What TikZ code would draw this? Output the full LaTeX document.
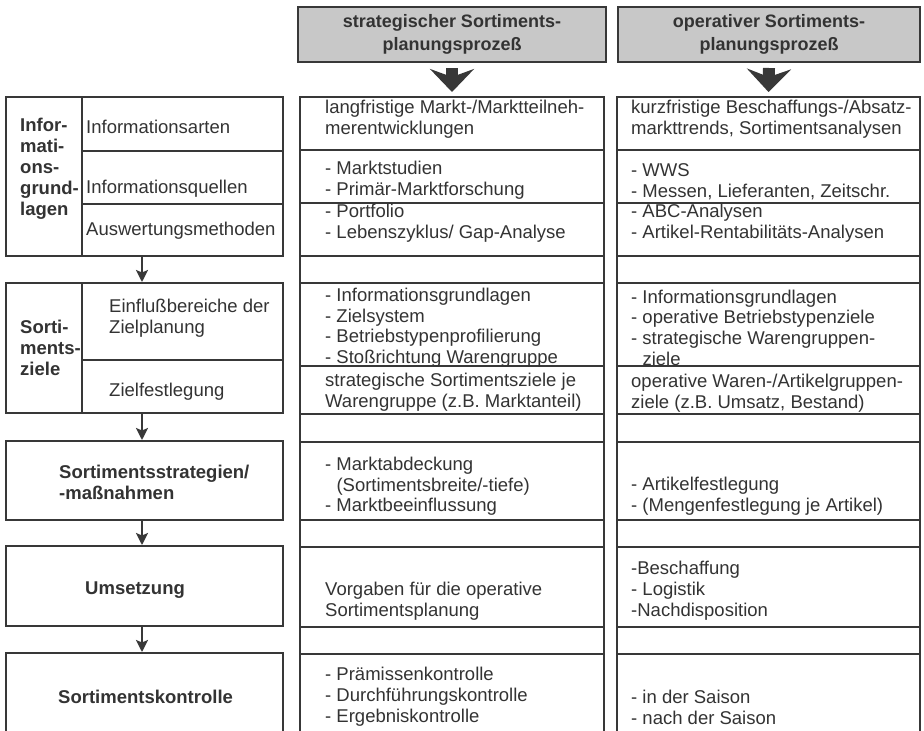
\documentclass[tikz,border=0pt]{standalone}
\usepackage{fontspec}
\setmainfont{Liberation Sans}
\usetikzlibrary{arrows.meta,fit,calc}
\definecolor{ln}{HTML}{383838}
\definecolor{tx}{HTML}{333333}
\definecolor{hdr}{HTML}{C8C8C8}
\begin{document}
\begin{tikzpicture}[x=1pt,y=-1pt,
  cellbox/.style={draw=ln, line width=2pt, inner sep=0pt},
  hdrbox/.style={draw=ln, line width=2pt, fill=hdr, inner sep=0pt},
  htxt/.style={inner sep=0pt, align=center, text=tx, font=\fontsize{18}{23}\selectfont\bfseries},
  txt/.style={anchor=west, inner sep=0pt, align=left, text=tx, font=\fontsize{18.5}{20.8}\selectfont},
  btxt/.style={txt, font=\fontsize{18.5}{21}\selectfont\bfseries},
  smallarrow/.style={draw=ln, line width=2.2pt, -{Stealth[length=12pt,width=12pt,inset=2.5pt]}},
  bigarrow/.style={draw=ln, line width=12pt, -{Stealth[length=23pt,width=44pt,inset=8pt]}}]
\useasboundingbox (0,0) rectangle (924,731);
\clip (0,0) rectangle (924,731);
\fill[white] (0,0) rectangle (924,731);

% headers
\node[hdrbox, fit={(298,7) (606,62)}] (h1) {};
\node[hdrbox, fit={(618,7) (920,62)}] (h2) {};
\node[htxt] (th1) at (h1.center) {strategischer Sortiments-\\planungsprozeß};
\node[htxt] (th2) at (h2.center) {operativer Sortiments-\\planungsprozeß};

% left column
\node[cellbox, fit={(6,97) (283,256)}] (IG) {};
\node[cellbox, fit={(82,97) (283,151)}] (IA) {};
\node[cellbox, fit={(82,151) (283,204)}] (IQ) {};
\node[cellbox, fit={(82,204) (283,256)}] (AM) {};
\node[cellbox, fit={(6,283) (283,413)}] (SZ) {};
\node[cellbox, fit={(82,283) (283,360)}] (EB) {};
\node[cellbox, fit={(82,360) (283,413)}] (ZF) {};
\node[cellbox, fit={(6,441) (283,520)}] (SS) {};
\node[cellbox, fit={(6,546) (283,626)}] (UM) {};
\node[cellbox, fit={(6,653) (283,745)}] (SK) {};

% middle and right columns
\foreach \i/\a/\b in {1/97/150, 2/150/203, 3/203/256, 4/256/283, 5/283/366, 6/366/414,
  7/414/442, 8/442/520, 9/520/547, 10/547/627, 11/627/654, 12/654/745} {
  \node[cellbox, fit={(300,\a) (604,\b)}] (m\i) {};
  \node[cellbox, fit={(617,\a) (920,\b)}] (r\i) {};
}

% arrows
\draw[bigarrow] ($(h1.south)+(0,5)$) -- ($(m1.north)+(0,-4)$);
\draw[bigarrow] ($(h2.south)+(0,5)$) -- ($(r1.north)+(0,-4)$);
\draw[smallarrow] ([xshift=-2.5pt]IG.south) -- ([xshift=-2.5pt]SZ.north);
\draw[smallarrow] ([xshift=-2.5pt]SZ.south) -- ([xshift=-2.5pt]SS.north);
\draw[smallarrow] ([xshift=-2.5pt]SS.south) -- ([xshift=-2.5pt]UM.north);
\draw[smallarrow] ([xshift=-2.5pt]UM.south) -- ([xshift=-2.5pt]SK.north);

% left texts
\node[btxt] (tIG) at (20,168.5) {Infor-\\mati-\\ons-\\grund-\\lagen};
\node[txt] (tIA) at (86,127) {Informationsarten};
\node[txt] (tIQ) at (86,189) {Informationsquellen};
\node[txt] (tAM) at (86,231) {Auswertungsmethoden};
\node[btxt] (tSZ) at (20,347.7) {Sorti-\\ments-\\ziele};
\node[txt] (tEB) at (109,318) {Einflußbereiche der\\Zielplanung};
\node[txt] (tZF) at (109,392) {Zielfestlegung};
\node[btxt] (tSS) at (59,482.5) {Sortimentsstrategien/\\-maßnahmen};
\node[btxt] (tUM) at (85,590) {Umsetzung};
\node[btxt] (tSK) at (58,697) {Sortimentskontrolle};

% middle texts
\node[txt] (tm1) at (325,119.5) {langfristige Markt-/Marktteilneh-\\merentwicklungen};
\node[txt] (tm2) at (325,180.5) {- Marktstudien\\- Primär-Marktforschung};
\node[txt] (tm3) at (325,223.5) {- Portfolio\\- Lebenszyklus/ Gap-Analyse};
\node[txt] (tm5) at (325,327.75) {- Informationsgrundlagen\\- Zielsystem\\- Betriebstypenprofilierung\\- Stoßrichtung Warengruppe};
\node[txt] (tm6) at (325,392.5) {strategische Sortimentsziele je\\Warengruppe (z.B. Marktanteil)};
\node[txt] (tm8) at (325,486.3) {- Marktabdeckung\\\phantom{- }(Sortimentsbreite/-tiefe)\\- Marktbeeinflussung};
\node[txt] (tm10) at (325,601.5) {Vorgaben für die operative\\Sortimentsplanung};
\node[txt] (tm12) at (325,696.7) {- Prämissenkontrolle\\- Durchführungskontrolle\\- Ergebniskontrolle};

% right texts
\node[txt] (tr1) at (631,119.5) {kurzfristige Beschaffungs-/Absatz-\\markttrends, Sortimentsanalysen};
\node[txt] (tr2) at (631,182) {- WWS\\- Messen, Lieferanten, Zeitschr.};
\node[txt] (tr3) at (631,223.5) {- ABC-Analysen\\- Artikel-Rentabilitäts-Analysen};
\node[txt] (tr5) at (631,327.75) {- Informationsgrundlagen\\- operative Betriebstypenziele\\- strategische Warengruppen-\\\phantom{- }ziele};
\node[txt] (tr6) at (631,393) {operative Waren-/Artikelgruppen-\\ziele (z.B. Umsatz, Bestand)};
\node[txt] (tr8) at (631,496) {- Artikelfestlegung\\- (Mengenfestlegung je Artikel)};
\node[txt] (tr10) at (631,590.7) {-Beschaffung\\- Logistik\\-Nachdisposition};
\node[txt] (tr12) at (631,707.5) {- in der Saison\\- nach der Saison};
\end{tikzpicture}
\end{document}
